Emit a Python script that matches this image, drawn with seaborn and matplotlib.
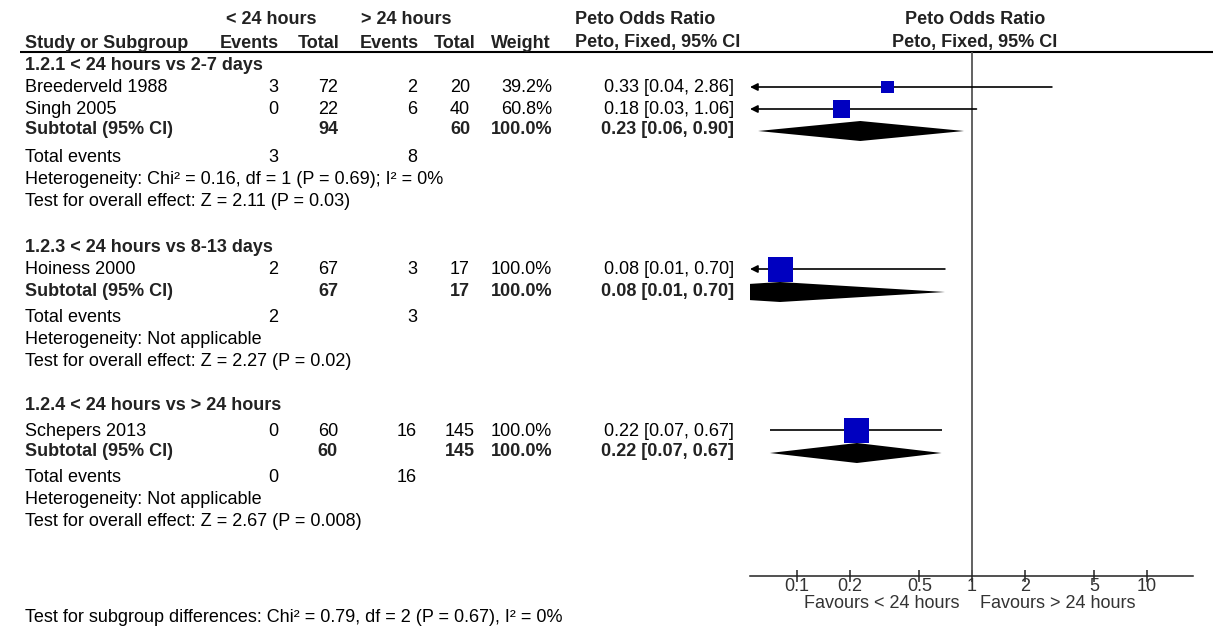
import numpy as np
import matplotlib.pyplot as plt
import seaborn as sns

sns.set_style('white')
plt.rcParams['font.family'] = ['Liberation Sans', 'DejaVu Sans']

# data
studies = ['Breederveld 1988', 'Singh 2005', 'Hoiness 2000', 'Schepers 2013']
study_group = [0, 0, 1, 2]
events_lt24 = [3, 0, 2, 0]
total_lt24 = [72, 22, 67, 60]
events_gt24 = [2, 6, 3, 16]
total_gt24 = [20, 40, 17, 145]
weights = [39.2, 60.8, 100.0, 100.0]
or_est = [0.33, 0.18, 0.08, 0.22]
or_lo = [0.04, 0.03, 0.01, 0.07]
or_hi = [2.86, 1.06, 0.70, 0.67]

groups = ['1.2.1 < 24 hours vs 2-7 days', '1.2.3 < 24 hours vs 8-13 days',
          '1.2.4 < 24 hours vs > 24 hours']
sub_total_lt24 = [94, 67, 60]
sub_total_gt24 = [60, 17, 145]
sub_events_lt24 = [3, 2, 0]
sub_events_gt24 = [8, 3, 16]
sub_est = [0.23, 0.08, 0.22]
sub_lo = [0.06, 0.01, 0.07]
sub_hi = [0.90, 0.70, 0.67]
heterogeneity = ['Heterogeneity: Chi² = 0.16, df = 1 (P = 0.69); I² = 0%',
                 'Heterogeneity: Not applicable',
                 'Heterogeneity: Not applicable']
overall = ['Test for overall effect: Z = 2.11 (P = 0.03)',
           'Test for overall effect: Z = 2.27 (P = 0.02)',
           'Test for overall effect: Z = 2.67 (P = 0.008)']
subgroup_test = 'Test for subgroup differences: Chi² = 0.79, df = 2 (P = 0.67), I² = 0%'
ticks = [0.1, 0.2, 0.5, 1, 2, 5, 10]
tick_labels = ['0.1', '0.2', '0.5', '1', '2', '5', '10']

# layout (pixels)
W, H = 1213, 628
FS = 13
title_y = [66, 248, 406]
study_y = [87, 109, 269, 430]
sub_y = [131, 292, 453]
events_y = [157, 318, 478]
het_y = [179, 340, 500]
test_y = [201, 362, 522]
AXIS_Y = 576
XMIN, XMAX = 0.0539, 18.3

fig = plt.figure(figsize=(W / 100, H / 100), dpi=100)
bg = fig.add_axes([0, 0, 1, 1])
bg.set_xlim(0, W)
bg.set_ylim(H, 0)
bg.axis('off')

def txt(x, y, s, ha='left', bold=False, color='black'):
    bg.text(x, y, s, ha=ha, va='center', fontsize=FS,
            fontweight='bold' if bold else 'normal', color=color)

# header
hc = '#222222'
txt(271, 20, '< 24 hours', 'center', True, hc)
txt(406, 20, '> 24 hours', 'center', True, hc)
txt(575, 20, 'Peto Odds Ratio', 'left', True, hc)
txt(975, 20, 'Peto Odds Ratio', 'center', True, hc)
txt(25, 43, 'Study or Subgroup', 'left', True, hc)
txt(279, 43, 'Events', 'right', True, hc)
txt(340, 43, 'Total', 'right', True, hc)
txt(419, 43, 'Events', 'right', True, hc)
txt(475, 43, 'Total', 'right', True, hc)
txt(551, 43, 'Weight', 'right', True, hc)
txt(575, 43, 'Peto, Fixed, 95% CI', 'left', True, hc)
txt(975, 43, 'Peto, Fixed, 95% CI', 'center', True, hc)
bg.hlines(52, 20, W, color='black', lw=1.5)

# study rows
for i, name in enumerate(studies):
    y = study_y[i] + 1
    txt(25, y, name)
    txt(278, y, str(events_lt24[i]), 'right')
    txt(338, y, str(total_lt24[i]), 'right')
    txt(417, y, str(events_gt24[i]), 'right')
    txt(460, y, str(total_gt24[i]), 'center')
    txt(552, y, f'{weights[i]:.1f}%', 'right')
    txt(734, y, f'{or_est[i]:.2f} [{or_lo[i]:.2f}, {or_hi[i]:.2f}]', 'right')

# group rows
for g, title in enumerate(groups):
    txt(25, title_y[g], title, bold=True, color=hc)
    y = sub_y[g] - 1
    txt(25, y, 'Subtotal (95% CI)', bold=True, color=hc)
    txt(338, y, str(sub_total_lt24[g]), 'right', True, hc)
    txt(460, y, str(sub_total_gt24[g]), 'center', True, hc)
    txt(552, y, '100.0%', 'right', True, hc)
    txt(734, y, f'{sub_est[g]:.2f} [{sub_lo[g]:.2f}, {sub_hi[g]:.2f}]', 'right', True, hc)
    txt(25, events_y[g], 'Total events')
    txt(278, events_y[g], str(sub_events_lt24[g]), 'right')
    txt(417, events_y[g], str(sub_events_gt24[g]), 'right')
    txt(25, het_y[g], heterogeneity[g])
    txt(25, test_y[g], overall[g])

txt(25, 617, subgroup_test)

# forest panel
ax = fig.add_axes([750 / W, 0, 443 / W, 1])
ax.patch.set_alpha(0)
ax.set_xscale('log')
ax.set_xlim(XMIN, XMAX)
ax.set_ylim(H, 0)

ax.vlines(1, 52, AXIS_Y, color='#555555', lw=1.3, zorder=1)

for i in range(len(studies)):
    y = study_y[i]
    if or_lo[i] < XMIN:
        ax.annotate('', xy=(XMIN, y), xytext=(or_hi[i], y),
                    arrowprops=dict(arrowstyle='-|>', color='black', lw=1.2,
                                    mutation_scale=11, shrinkA=0, shrinkB=0))
    else:
        ax.hlines(y, or_lo[i], or_hi[i], color='black', lw=1.2, zorder=2)

sizes = [(25 * (w / 100) ** 0.7 * 0.72) ** 2 for w in weights]
sns.scatterplot(x=or_est, y=study_y, s=sizes, marker='s', color='#0000c0',
                linewidth=0, ax=ax, legend=False, zorder=3)

for g in range(len(groups)):
    y = sub_y[g]
    ax.fill([sub_lo[g], sub_est[g], sub_hi[g], sub_est[g]],
            [y, y - 10, y, y + 10], color='black', lw=0, zorder=4)

for side in ['top', 'left', 'right']:
    ax.spines[side].set_visible(False)
ax.spines['bottom'].set_position(('data', AXIS_Y))
ax.spines['bottom'].set_color('#222222')
ax.spines['bottom'].set_linewidth(1.1)
ax.set_xticks(ticks)
ax.set_xticklabels(tick_labels)
ax.xaxis.set_minor_locator(plt.NullLocator())
ax.set_yticks([])
ax.tick_params(axis='x', direction='inout', length=8, width=1.1, color='#222222',
               labelsize=FS, labelcolor='#333333', pad=-2.5, bottom=True)
ax.set_xlabel('')
ax.set_ylabel('')

bg.text(960, 603, 'Favours < 24 hours', ha='right', va='center', fontsize=FS, color='#333333')
bg.text(980, 603, 'Favours > 24 hours', ha='left', va='center', fontsize=FS, color='#333333')

fig.savefig('out.png', dpi=100)
